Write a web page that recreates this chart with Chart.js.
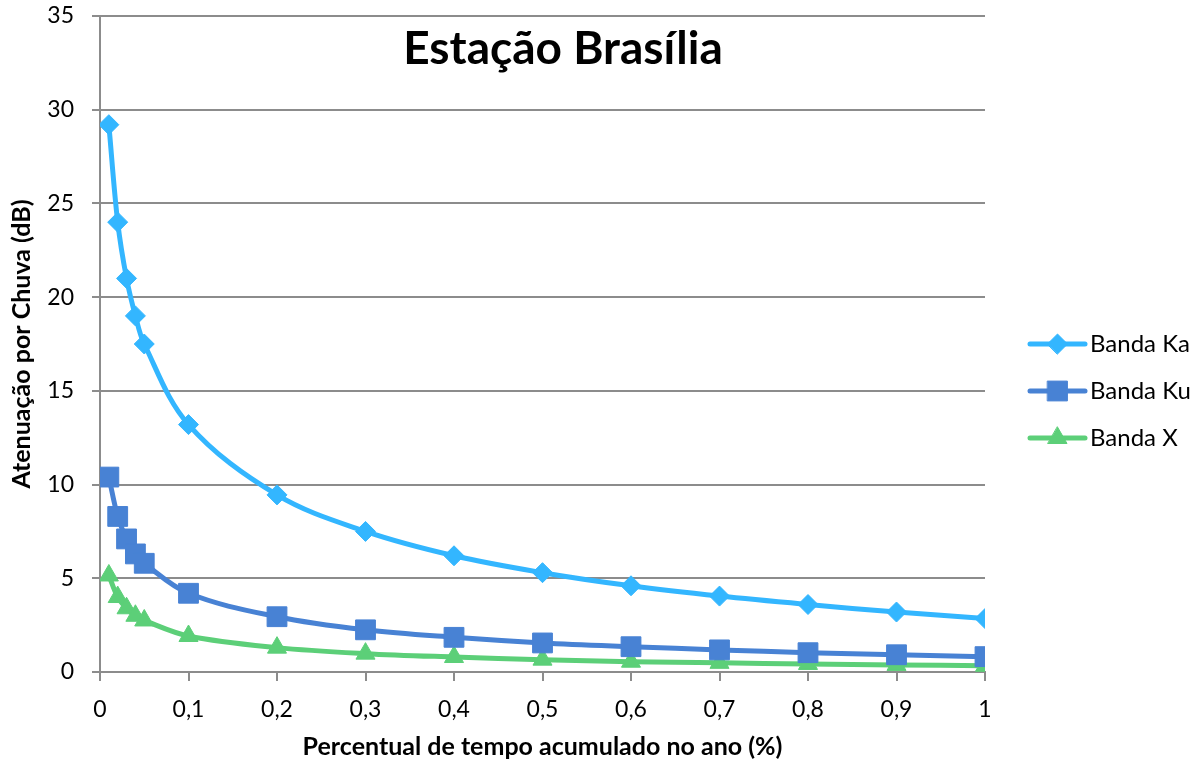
<!DOCTYPE html>
<html>
<head>
<meta charset="utf-8">
<script src="https://cdn.jsdelivr.net/npm/chart.js@4/dist/chart.umd.min.js"></script>
<style>
  html, body { margin: 0; padding: 0; background: #ffffff; }
  #wrap { width: 1197px; height: 762px; }
</style>
</head>
<body>
<div id="wrap"><canvas id="chart" width="1197" height="762"></canvas></div>
<script>
// Percentual de tempo acumulado no ano (%)
const percentTime = [0.01, 0.02, 0.03, 0.04, 0.05, 0.1, 0.2, 0.3, 0.4, 0.5, 0.6, 0.7, 0.8, 0.9, 1];

// Atenuação por chuva (dB) por banda
const bandaKa = [29.2, 24.0, 21.0, 19.0, 17.5, 13.2, 9.45, 7.5, 6.2, 5.3, 4.6, 4.05, 3.6, 3.2, 2.85];
const bandaKu = [10.4, 8.3, 7.1, 6.3, 5.8, 4.2, 2.95, 2.25, 1.85, 1.55, 1.35, 1.18, 1.03, 0.92, 0.82];
const bandaX  = [5.15, 4.0, 3.4, 3.0, 2.75, 1.92, 1.3, 0.98, 0.8, 0.66, 0.55, 0.49, 0.43, 0.38, 0.33];

const seriesNames = ['Banda Ka', 'Banda Ku', 'Banda X'];
const xTickLabels = ['0', '0,1', '0,2', '0,3', '0,4', '0,5', '0,6', '0,7', '0,8', '0,9', '1'];
const chartTitle = 'Estação Brasília';

const FONT = 'Lato, "Open Sans", sans-serif';
const GRID = '#8c8c8c';

function toPoints(values) {
  return percentTime.map((x, i) => ({ x: x, y: values[i] }));
}

function makeSeries(label, values, color, style, radius) {
  return {
    label: label,
    data: toPoints(values),
    borderColor: color,
    backgroundColor: color,
    borderWidth: 5,
    pointStyle: style,
    pointRadius: radius,
    pointHoverRadius: radius,
    pointBorderWidth: 1,
    pointBorderColor: color,
    pointBackgroundColor: color,
    tension: 0.35,
    fill: false
  };
}

// Title drawn inside the plot, over the grid
const titlePlugin = {
  id: 'plotTitle',
  afterDraw(chart) {
    const ctx = chart.ctx;
    ctx.save();
    ctx.font = 'bold 46px ' + FONT;
    ctx.fillStyle = '#000000';
    ctx.textAlign = 'center';
    ctx.textBaseline = 'alphabetic';
    ctx.fillText(chartTitle, 563, 64);
    ctx.restore();
  }
};

// Legend at right: short line with the series marker, then the name
const sideLegend = {
  id: 'sideLegend',
  afterDraw(chart) {
    const ctx = chart.ctx;
    const x0 = 1030, x1 = 1085, textX = 1090;
    const rows = [344, 391, 438];
    ctx.save();
    chart.data.datasets.forEach((ds, i) => {
      const y = rows[i];
      ctx.strokeStyle = ds.borderColor;
      ctx.lineWidth = ds.borderWidth;
      ctx.lineCap = 'round';
      ctx.beginPath();
      ctx.moveTo(x0, y);
      ctx.lineTo(x1, y);
      ctx.stroke();
      ctx.fillStyle = ds.pointBackgroundColor;
      ctx.strokeStyle = ds.pointBorderColor;
      ctx.lineWidth = 1;
      Chart.helpers.drawPoint(ctx, {
        pointStyle: ds.pointStyle,
        radius: ds.pointRadius,
        rotation: 0,
        borderWidth: 1
      }, (x0 + x1) / 2, y);
      ctx.fillStyle = '#000000';
      ctx.font = '24px ' + FONT;
      ctx.textAlign = 'left';
      ctx.textBaseline = 'middle';
      ctx.fillText(ds.label, textX, y);
    });
    ctx.restore();
  }
};

const chart = new Chart(document.getElementById('chart'), {
  type: 'line',
  data: {
    datasets: [
      makeSeries(seriesNames[0], bandaKa, '#33b6ff', 'rectRot', 10),
      makeSeries(seriesNames[1], bandaKu, '#4882d4', 'rect', 14),
      makeSeries(seriesNames[2], bandaX, '#5ccf78', 'triangle', 11)
    ]
  },
  options: {
    responsive: false,
    animation: false,
    devicePixelRatio: 1,
    layout: { autoPadding: false, padding: { top: 16, right: 212, bottom: 0, left: 0 } },
    plugins: {
      legend: { display: false },
      title: { display: false },
      tooltip: { enabled: false }
    },
    scales: {
      x: {
        type: 'linear',
        min: 0,
        max: 1,
        afterFit(scale) {
          scale.height = 90;
          scale.paddingLeft = 0;
          scale.paddingRight = 0;
        },
        afterBuildTicks(scale) {
          scale.ticks = xTickLabels.map((_, i) => ({ value: i / 10 }));
        },
        ticks: {
          autoSkip: false,
          maxRotation: 0,
          padding: 15,
          color: '#000000',
          font: { family: FONT, size: 23 },
          callback: (value, index) => xTickLabels[index]
        },
        grid: {
          display: true,
          drawOnChartArea: false,
          drawTicks: true,
          tickLength: 9,
          color: GRID,
          lineWidth: 2
        },
        border: { display: true, color: GRID, width: 2 },
        title: {
          display: true,
          text: 'Percentual de tempo acumulado no ano (%)',
          color: '#000000',
          font: { family: FONT, size: 25, weight: 'bold' },
          padding: { top: 0, bottom: 0 }
        }
      },
      y: {
        min: 0,
        max: 35,
        afterFit(scale) {
          scale.width = 100;
          scale.paddingTop = 0;
          scale.paddingBottom = 0;
        },
        ticks: {
          stepSize: 5,
          padding: 18,
          color: '#000000',
          font: { family: FONT, size: 23 }
        },
        grid: {
          display: true,
          drawTicks: true,
          tickLength: 8,
          color: GRID,
          lineWidth: 2
        },
        border: { display: true, color: GRID, width: 2 },
        title: {
          display: true,
          text: 'Atenuação por Chuva (dB)',
          color: '#000000',
          font: { family: FONT, size: 25, weight: 'bold' },
          padding: { top: 7, bottom: 0 }
        }
      }
    }
  },
  plugins: [titlePlugin, sideLegend]
});
</script>
</body>
</html>
